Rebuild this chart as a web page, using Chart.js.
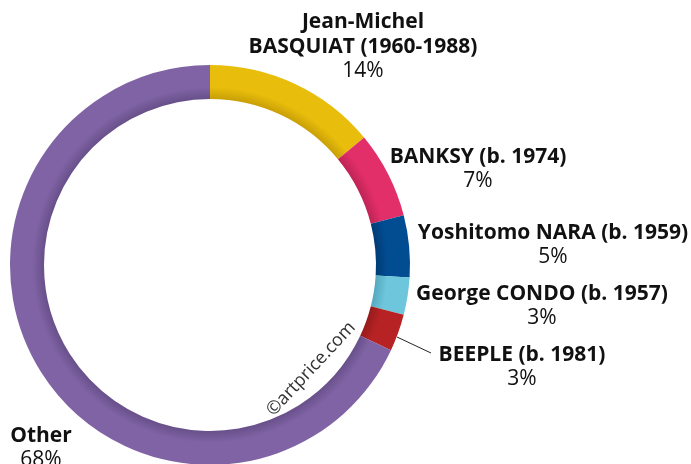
<!DOCTYPE html>
<html>
<head>
<meta charset="utf-8">
<script src="https://cdn.jsdelivr.net/npm/chart.js@4.4.0/dist/chart.umd.min.js"></script>
<style>
  html, body { margin: 0; padding: 0; background: #fff; overflow: hidden; }
  canvas { display: block; }
</style>
</head>
<body>
<canvas id="artChart" width="691" height="466"></canvas>
<script>
// Share of auction turnover by artist
const artists = ["Jean-Michel\nBASQUIAT (1960-1988)", "BANKSY (b. 1974)", "Yoshitomo NARA (b. 1959)", "George CONDO (b. 1957)", "BEEPLE (b. 1981)", "Other"];
const shares = [14, 7, 5, 3, 3, 68];
const colors = ["#E8BD0C", "#E22E69", "#024C92", "#6DC6DB", "#B72324", "#8063A5"];
const shades = ["#C99F06", "#BE2457", "#013C75", "#55A9BE", "#961B1C", "#68508A"];

// label anchor (center of text block, first line y)
const labelPos = [
    [363, 22], [478, 157], [553, 233], [542, 294], [522, 355], [41, 436]
];

const labelPlugin = {
    id: "labels",
    afterDraw(chart) {
        const c = chart.ctx;
        c.save();
        c.textAlign = "center";
        c.textBaseline = "middle";
        c.fillStyle = "#111";
        artists.forEach((name, i) => {
            const [x, y] = labelPos[i];
            const lines = name.split("\n");
            c.font = "bold 21px 'Open Sans'";
            lines.forEach((ln, j) => c.fillText(ln, x, y + j * 25));
            c.font = "21px 'Open Sans'";
            c.fillText(shares[i] + "%", x, y + lines.length * 24.5);
        });

        // leader line for BEEPLE
        c.strokeStyle = "#222";
        c.lineWidth = 1;
        c.beginPath();
        c.moveTo(397, 337);
        c.lineTo(431, 353);
        c.stroke();

        // watermark
        c.translate(311, 369);
        c.rotate(-47 * Math.PI / 180);
        c.font = "18px 'Open Sans'";
        c.fillStyle = "#333";
        c.fillText("\u00A9artprice.com", 0, 0);
        c.restore();
    }
};

// darker toward inner edge of the ring
const ringFill = (context) => {
    const chart = context.chart;
    const area = chart.chartArea;
    const i = context.dataIndex;
    if (!area) return colors[i];
    const cx = (area.left + area.right) / 2;
    const cy = (area.top + area.bottom) / 2;
    const outer = Math.min(area.right - area.left, area.bottom - area.top) / 2;
    const inner = outer * 0.83;
    const g = chart.ctx.createRadialGradient(cx, cy, inner, cx, cy, outer);
    g.addColorStop(0, shades[i]);
    g.addColorStop(0.35, colors[i]);
    g.addColorStop(1, colors[i]);
    return g;
};

const ctx = document.getElementById("artChart").getContext("2d");
const artChart = new Chart(ctx, {
    type: "doughnut",
    data: {
        labels: artists,
        datasets: [{
            data: shares,
            backgroundColor: ringFill,
            borderWidth: 0
        }]
    },
    options: {
        responsive: false,
        animation: false,
        cutout: "83%",
        layout: { padding: { left: 10, right: 281, top: 65, bottom: 1 } },
        plugins: {
            legend: { display: false },
            tooltip: { enabled: false }
        }
    },
    plugins: [labelPlugin]
});
</script>
</body>
</html>
